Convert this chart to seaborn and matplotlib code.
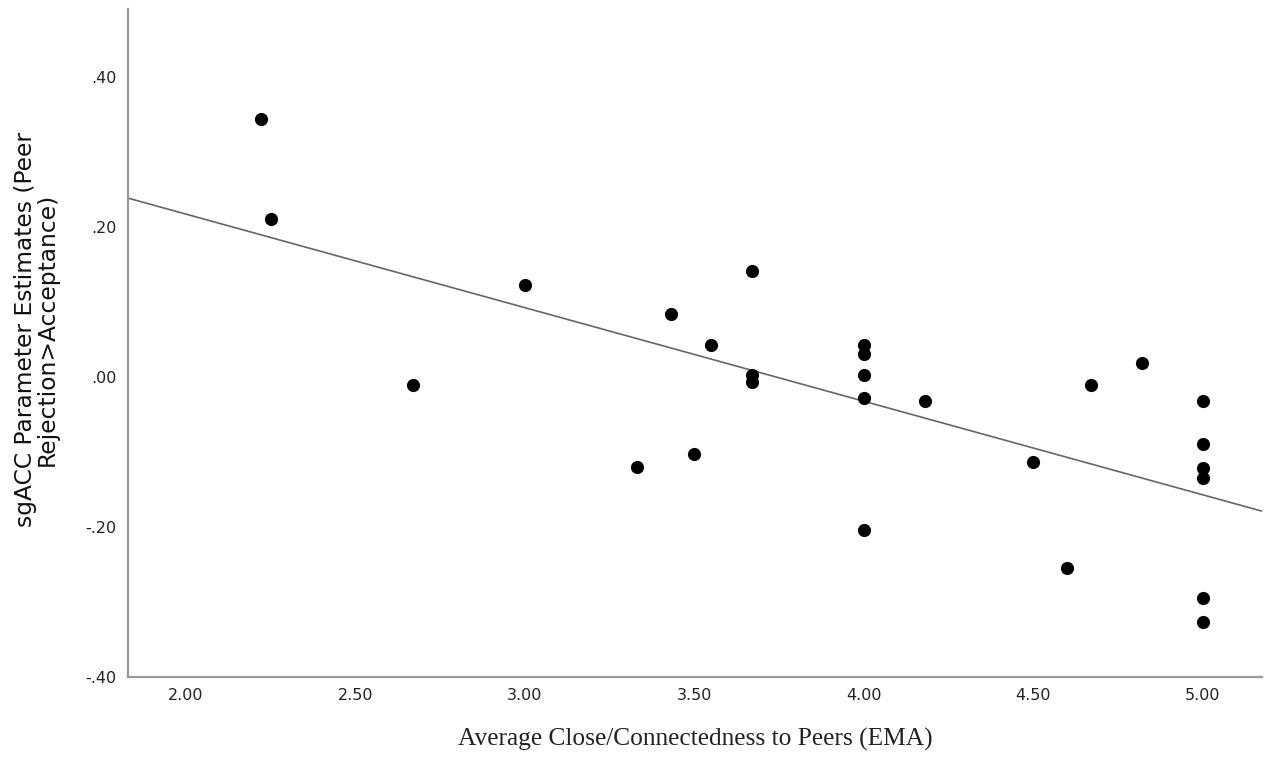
import numpy as np
import matplotlib
matplotlib.use("Agg")
import matplotlib.pyplot as plt
import pandas as pd
import seaborn as sns

# valores
closeness = [2.22, 2.25, 2.67, 3.00, 3.33, 3.43, 3.50, 3.55,
             3.67, 3.67, 3.67,
             4.00, 4.00, 4.00, 4.00, 4.00,
             4.18, 4.50, 4.60, 4.67, 4.82,
             5.00, 5.00, 5.00, 5.00, 5.00, 5.00]
sgacc = [0.343, 0.211, -0.011, 0.122, -0.120, 0.084, -0.103, 0.043,
         0.141, 0.002, -0.007,
         0.043, 0.030, 0.003, -0.028, -0.204,
         -0.032, -0.113, -0.255, -0.011, 0.018,
         -0.032, -0.090, -0.122, -0.135, -0.295, -0.326]
xticks = [2.0, 2.5, 3.0, 3.5, 4.0, 4.5, 5.0]
xticklabels = ["2.00", "2.50", "3.00", "3.50", "4.00", "4.50", "5.00"]
yticks = [-0.4, -0.2, 0.0, 0.2, 0.4]
yticklabels = ["-.40", "-.20", ".00", ".20", ".40"]

data = pd.DataFrame({"x": closeness, "y": sgacc})

sns.set_style("white")
plt.rcParams["font.family"] = ["DejaVu Sans"]

fig = plt.figure(figsize=(12.72, 7.62), dpi=100)
ax = fig.add_axes([0.1006, 0.1115, 0.8914, 0.8765])
ax.set_xlim(1.829, 5.174)
ax.set_ylim(-0.40, 0.49)

#Grafico de dispersion con la recta de regresion
sns.regplot(data=data, x="x", y="y", ax=ax, ci=None, truncate=False,
            scatter_kws={"s": 90, "color": "black", "alpha": 1, "linewidths": 0, "zorder": 3},
            line_kws={"color": "#666666", "lw": 1.2, "zorder": 2})
ax.set_xlim(1.829, 5.174)
ax.set_ylim(-0.40, 0.49)

ax.set_xticks(xticks)
ax.set_xticklabels(xticklabels)
ax.set_yticks(yticks)
ax.set_yticklabels(yticklabels)
ax.tick_params(length=0, labelsize=11.5, labelcolor="#222222", pad=8)

ax.set_xlabel("Average Close/Connectedness to Peers (EMA)", family="Liberation Serif",
              fontsize=18.3, color="#222222", labelpad=18)
ax.set_ylabel("sgACC Parameter Estimates (Peer\nRejection>Acceptance)",
              fontsize=16.8, color="#111111", linespacing=0.95)
ax.yaxis.set_label_coords(-0.061, 0.52)

for s in ["top", "right"]:
    ax.spines[s].set_visible(False)
for s in ["left", "bottom"]:
    ax.spines[s].set_color("#999999")
    ax.spines[s].set_linewidth(1.6)

fig.savefig("out.png", dpi=100)
